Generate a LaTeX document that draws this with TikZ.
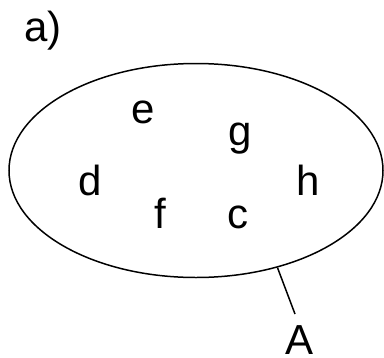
\documentclass[tikz,border=0pt]{standalone}
\usepackage{fontspec}
\setmainfont{Liberation Sans}
\usetikzlibrary{shapes.geometric}
\begin{document}
\begin{tikzpicture}[x=1bp,y=-1bp,
  lbl/.style={inner sep=0pt,anchor=base,font=\fontsize{42bp}{50bp}\selectfont},
  setline/.style={draw=black,line width=1.5pt}]
\useasboundingbox (0,0) rectangle (384,358);
\node[setline,ellipse,inner sep=0pt,minimum width=374bp,minimum height=214bp] (ell) at (196,170.5) {};
\node[lbl,anchor=base west] (lab) at (24,41.5) {a)};
\node[lbl] (e) at (143,123) {e};
\node[lbl] (g) at (240,145) {g};
\node[lbl] (d) at (90,195) {d};
\node[lbl] (h) at (308,195) {h};
\node[lbl] (f) at (160,228) {f};
\node[lbl] (c) at (238,228) {c};
\node[lbl] (A) at (299.5,354) {A};
\coordinate (Aend) at (295,314);
\draw[setline] (ell.-50.8) -- (Aend);
\end{tikzpicture}
\end{document}
